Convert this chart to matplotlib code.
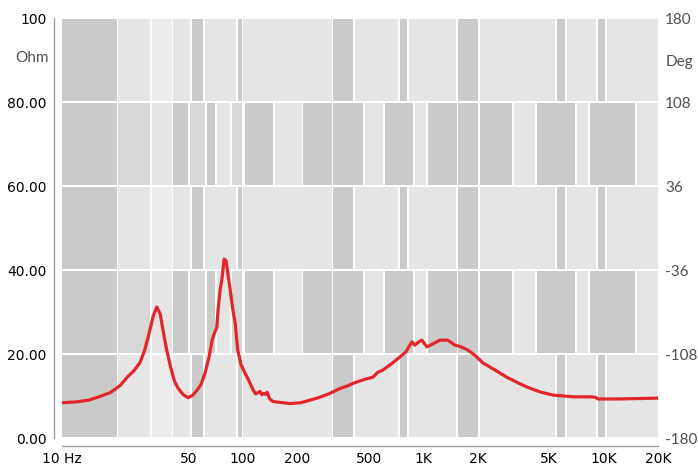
import matplotlib
matplotlib.use('Agg')
import matplotlib.pyplot as plt
from matplotlib.patches import Rectangle
from matplotlib import font_manager

# impedance curve
freq_hz = [10, 12, 14, 16, 18.5, 21, 23, 25, 27, 28.5, 30, 32, 33.5, 35, 36.5, 38, 40, 42, 44, 47,
           50, 53, 56, 59, 62, 65, 68, 70, 72, 73, 75, 77, 79, 81, 83, 85, 88, 91, 94, 98,
           103, 108, 114, 118, 122, 125, 128, 131, 134, 137, 141, 147, 160, 184, 210, 259, 300, 347,
           381, 420, 470, 527, 560, 600, 660, 744, 800, 867, 900, 940, 985, 1020, 1050, 1120, 1240,
           1370, 1500, 1600, 1760, 1950, 2140, 2500, 2900, 3400, 3880, 4500, 5260, 6000, 6800, 8400,
           9000, 9300, 12000, 16000, 20000]
impedance_ohm = [8.4, 8.6, 9.0, 9.8, 10.8, 12.5, 14.5, 16.0, 17.9, 20.5, 24.0, 29.0, 31.2, 29.5, 25.0, 21.0, 16.8, 13.5, 11.8, 10.3,
                 9.6, 10.2, 11.4, 12.8, 15.5, 19.0, 23.5, 25.0, 26.3, 30.0, 35.0, 38.0, 42.6, 42.2, 39.0, 36.0, 31.0, 27.4, 21.0, 17.5,
                 15.5, 13.8, 11.6, 10.5, 10.8, 11.1, 10.3, 10.6, 10.4, 10.9, 9.4, 8.7, 8.5, 8.2, 8.4, 9.5, 10.5, 11.8,
                 12.4, 13.2, 13.9, 14.5, 15.6, 16.2, 17.5, 19.3, 20.4, 22.9, 22.1, 22.8, 23.3, 22.4, 21.7, 22.3, 23.3,
                 23.3, 22.1, 21.8, 21.0, 19.6, 17.9, 16.2, 14.5, 13.0, 11.9, 10.9, 10.2, 10.0, 9.8, 9.8,
                 9.7, 9.3, 9.3, 9.4, 9.5]

x_ticks = [10, 50, 100, 200, 500, 1000, 2000, 5000, 10000, 20000]
x_labels = ['10 Hz', '50', '100', '200', '500', '1K', '2K', '5K', '10K', '20K']
ohm_ticks = [0, 20, 40, 60, 80, 100]
ohm_labels = ['0.00', '20.00', '40.00', '60.00', '80.00', '100']
deg_ticks = [-180, -108, -36, 36, 108, 180]
deg_labels = ['-180', '-108', '-36', '36', '108', '180']

# background shading columns (pixel spans of the plot area), two alternating row patterns
SHADES = {'d': '#cbcbcb', 'm': '#d7d7d7', 'l': '#e5e5e5', 'w': '#ededed'}
BAND_A = [(62, 117, 'd'), (118, 150, 'l'), (152, 172, 'w'), (173, 190, 'l'), (192, 203, 'd'),
          (205, 236, 'l'), (238, 242, 'd'), (243, 332, 'l'), (333, 353, 'd'), (355, 398, 'l'),
          (400, 407, 'd'), (409, 456, 'l'), (458, 478, 'd'), (480, 555, 'l'), (557, 565, 'd'),
          (567, 596, 'l'), (598, 605, 'd'), (607, 658, 'l')]
BAND_B = [(62, 117, 'd'), (118, 150, 'm'), (152, 172, 'l'), (173, 188, 'd'), (190, 205, 'm'),
          (207, 215, 'd'), (217, 230, 'l'), (232, 242, 'm'), (245, 273, 'd'), (275, 302, 'l'),
          (303, 332, 'd'), (333, 363, 'd'), (365, 383, 'l'), (385, 413, 'd'), (415, 426, 'l'),
          (428, 457, 'd'), (458, 478, 'd'), (480, 512, 'd'), (514, 535, 'l'), (537, 575, 'd'),
          (577, 588, 'l'), (590, 635, 'd'), (637, 658, 'l')]
X0, X1 = 62, 658

# narrow sans if we have it
names = set(f.name for f in font_manager.fontManager.ttflist)
FONT = 'Liberation Sans Narrow' if 'Liberation Sans Narrow' in names else 'Lato'
FS = 12 if FONT == 'Liberation Sans Narrow' else 11
TXT = '#505050'

fig = plt.figure(figsize=(6.98, 4.72), dpi=100)
ax = fig.add_axes([X0 / 698, 34 / 472, (X1 - X0) / 698, 420 / 472])
ax.set_facecolor('white')

# shaded blocks
for row in range(5):
    pattern = BAND_A if row % 2 == 0 else BAND_B
    y_lo = 80 - row * 20
    for x_a, x_b, s in pattern:
        ax.add_patch(Rectangle(((x_a - X0) / (X1 - X0), y_lo + 0.3),
                               (x_b - x_a) / (X1 - X0), 19.4,
                               transform=ax.get_yaxis_transform(),
                               facecolor=SHADES[s], edgecolor='none', zorder=0))

ax.plot(freq_hz, impedance_ohm, color='#e3262c', lw=2.3, zorder=3, solid_joinstyle='round')

ax.set_xscale('log')
ax.set_xlim(10, 20000)
ax.set_ylim(0, 100)
ax.minorticks_off()

ax.set_xticks(x_ticks)
ax.set_xticklabels(x_labels, fontsize=FS, color=TXT, family=FONT)
ax.get_xticklabels()[0].set_horizontalalignment('left')
ax.set_yticks(ohm_ticks)
ax.set_yticklabels(ohm_labels, fontsize=FS, color=TXT, family=FONT)
ax.tick_params(length=0, pad=4)
ax.tick_params(axis='y', pad=5)

for side in ['top', 'right']:
    ax.spines[side].set_visible(False)
for side in ['left', 'bottom']:
    ax.spines[side].set_color('#a0a0a0')
    ax.spines[side].set_linewidth(1.0)
    ax.spines[side].set_position(('outward', 6))

ax.text(-0.022, 90.5, 'Ohm', transform=ax.get_yaxis_transform(), ha='right', va='center',
        fontsize=FS, color=TXT, family=FONT)

ax2 = ax.twinx()
ax2.set_ylim(-180, 180)
ax2.set_yticks(deg_ticks)
ax2.set_yticklabels(deg_labels, fontsize=FS, color=TXT, family=FONT)
ax2.tick_params(length=0, pad=5)
for side in ax2.spines:
    ax2.spines[side].set_visible(False)
ax2.text(1.012, 142, 'Deg', transform=ax2.get_yaxis_transform(), ha='left', va='center',
         fontsize=FS, color=TXT, family=FONT)

fig.savefig('out.png', dpi=100, facecolor='white')
